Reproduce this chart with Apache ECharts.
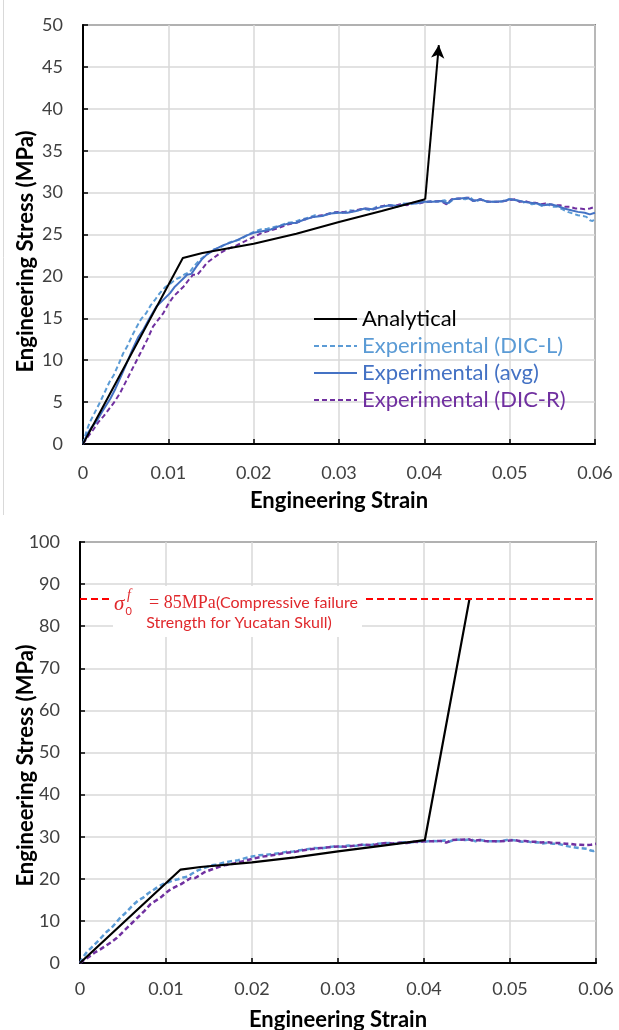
<!DOCTYPE html>
<html>
<head>
<meta charset="utf-8">
<script src="https://cdn.jsdelivr.net/npm/echarts@6/dist/echarts.min.js"></script>
<style>
html,body{margin:0;padding:0;background:#fff;}
#chart{width:619px;height:1030px;}
</style>
</head>
<body>
<div id="chart"></div>
<script>
// ---------- DATA ----------
const seriesNames = ['Analytical', 'Experimental (DIC-L)', 'Experimental (avg)', 'Experimental (DIC-R)'];

// Analytical model (strain, stress MPa)
const analytical = [[0,0],[0.0117,22.2],[0.014,22.8],[0.02,23.9],[0.025,25.1],[0.03,26.5],[0.035,27.8],[0.0401,29.2]];
const analyticalArrowEnd = [0.0417, 47.6];   // top chart: arrow continuing upward
const analyticalFailureEnd = [0.0453, 86.6]; // bottom chart: reaches failure strength
const failureStrength = 86.6;

const dicL = [[0,0],[0.0004,1.5],[0.0008,2.6],[0.0013,3.6],[0.002,5.0],[0.0026,6.3],[0.0031,7.4],[0.0036,8.2],[0.0042,9.6],[0.0047,10.8],[0.0052,11.7],[0.0058,13.0],[0.0063,14.0],[0.0068,14.9],[0.0074,15.6],[0.0079,16.5],[0.0085,17.3],[0.009,18.0],[0.0096,18.7],[0.0102,19.1],[0.0108,19.6],[0.0114,19.9],[0.012,20.3],[0.0125,20.5],[0.013,21.2],[0.0137,22.0],[0.0145,22.6],[0.0153,23.2],[0.016,23.4],[0.0168,23.9],[0.0176,24.2],[0.0184,24.4],[0.0192,24.9],[0.02,25.3],[0.0208,25.6],[0.0216,25.7],[0.0224,25.9],[0.0232,26.1],[0.024,26.4],[0.0248,26.5],[0.0256,26.8],[0.0264,27.0],[0.0272,27.3],[0.028,27.2],[0.0288,27.5],[0.0296,27.7],[0.0304,27.6],[0.0312,27.9],[0.032,27.8],[0.0328,28.1],[0.0336,27.9],[0.0344,28.3],[0.0352,28.4],[0.036,28.5],[0.0368,28.3],[0.0376,28.7],[0.0384,28.6],[0.0392,28.9],[0.04,28.8],[0.0408,29.0],[0.0416,28.9],[0.0424,29.1],[0.0428,28.7],[0.0434,29.2],[0.044,29.3],[0.0448,29.2],[0.0454,29.4],[0.046,28.9],[0.0466,29.2],[0.0474,28.9],[0.0482,28.9],[0.049,28.9],[0.0496,29.2],[0.0502,29.2],[0.0508,29.1],[0.0514,28.8],[0.052,28.9],[0.0526,28.6],[0.0532,28.7],[0.0538,28.4],[0.0544,28.6],[0.055,28.3],[0.0556,28.3],[0.0562,28.0],[0.0568,27.7],[0.0574,27.5],[0.058,27.3],[0.0586,27.2],[0.059,27.1],[0.0594,26.7],[0.0597,26.6],[0.06,26.9]];

const avgExp = [[0,0],[0.0005,1.2],[0.001,2.0],[0.0016,2.7],[0.0022,3.8],[0.0027,4.6],[0.0032,5.4],[0.0038,6.6],[0.0045,8.2],[0.0051,9.6],[0.0058,11.3],[0.0065,12.8],[0.0071,13.7],[0.0078,15.0],[0.0086,16.4],[0.0094,17.2],[0.0102,18.0],[0.0107,18.7],[0.0112,19.2],[0.0117,19.7],[0.0122,20.2],[0.0127,20.3],[0.0133,21.2],[0.0139,22.0],[0.0145,22.6],[0.0154,23.2],[0.0164,23.7],[0.0172,24.0],[0.018,24.3],[0.0192,24.9],[0.02,25.2],[0.021,25.4],[0.022,25.6],[0.023,26.0],[0.024,26.3],[0.025,26.4],[0.026,26.8],[0.027,27.1],[0.028,27.2],[0.029,27.5],[0.03,27.6],[0.031,27.6],[0.032,27.8],[0.033,28.1],[0.034,28.0],[0.035,28.3],[0.036,28.5],[0.037,28.4],[0.038,28.7],[0.039,28.7],[0.04,28.9],[0.041,28.9],[0.042,29.0],[0.0427,28.7],[0.0433,29.2],[0.0442,29.3],[0.045,29.4],[0.0458,29.0],[0.0466,29.2],[0.0474,28.9],[0.0484,28.9],[0.0494,29.0],[0.05,29.2],[0.0508,29.1],[0.0516,28.9],[0.0524,28.8],[0.0532,28.7],[0.054,28.5],[0.0548,28.6],[0.0556,28.4],[0.0564,28.1],[0.0572,27.9],[0.058,27.7],[0.0588,27.6],[0.0594,27.4],[0.06,27.6]];

const dicR = [[0,0],[0.0006,0.9],[0.0012,1.7],[0.0018,2.6],[0.0024,3.3],[0.003,4.1],[0.0036,4.9],[0.0043,6.0],[0.0051,7.6],[0.0059,9.2],[0.0067,10.8],[0.0075,12.4],[0.0082,14.0],[0.0088,14.8],[0.0094,15.6],[0.01,16.7],[0.0106,17.6],[0.0112,18.2],[0.0118,18.8],[0.0124,19.6],[0.0129,20.2],[0.0134,20.2],[0.0139,20.8],[0.0145,21.6],[0.0153,22.2],[0.0161,22.8],[0.017,23.3],[0.018,23.7],[0.019,24.2],[0.02,24.7],[0.021,25.2],[0.022,25.5],[0.023,25.8],[0.024,26.2],[0.025,26.4],[0.026,26.8],[0.027,27.1],[0.028,27.3],[0.029,27.5],[0.03,27.7],[0.031,27.6],[0.032,27.9],[0.033,28.1],[0.034,28.0],[0.0348,28.3],[0.0356,28.5],[0.0364,28.4],[0.0372,28.6],[0.038,28.5],[0.0387,28.8],[0.0394,28.7],[0.0401,28.9],[0.041,28.9],[0.0419,29.0],[0.0426,28.6],[0.0432,29.2],[0.0442,29.3],[0.0452,29.4],[0.0457,29.0],[0.0465,29.2],[0.0471,29.0],[0.0477,28.9],[0.0489,28.9],[0.05,29.1],[0.0506,29.2],[0.0512,28.9],[0.0518,29.0],[0.0524,28.8],[0.053,28.8],[0.0536,28.6],[0.0542,28.7],[0.0547,28.6],[0.0553,28.5],[0.0559,28.5],[0.0565,28.3],[0.0571,28.3],[0.0577,28.1],[0.0582,28.1],[0.0588,28.0],[0.0594,28.1],[0.06,28.3]];

const xRange = [0, 0.06, 0.01];
const yRangeTop = [0, 50, 5];
const yRangeBottom = [0, 100, 10];
const annotationLine1 = '(Compressive failure';
const annotationLine2 = 'Strength for Yucatan Skull)';

// ---------- STYLE ----------
const FONT = 'Lato, "Open Sans", sans-serif';
const C_BLACK = '#000000', C_L = '#5B9BD5', C_AVG = '#4472C4', C_R = '#7030A0', C_RED = '#FF0000', C_RED_TXT = '#E0282C';

function xAxisCfg(grid, margin, gap) {
  return {
    gridIndex: grid, type: 'value', min: xRange[0], max: xRange[1], interval: xRange[2],
    axisLine: { show: true, onZero: false, lineStyle: { color: '#000', width: 2 } },
    axisTick: { show: true, inside: true, length: 5, lineStyle: { color: '#000', width: 1.5 } },
    splitLine: { show: true, lineStyle: { color: '#d9d9d9', width: 1.5 } },
    axisLabel: { margin: margin, fontSize: 18, color: '#404040', fontFamily: FONT,
      formatter: v => String(+v.toFixed(2)) },
    name: 'Engineering Strain', nameLocation: 'middle', nameGap: gap,
    nameTextStyle: { fontSize: 22, fontWeight: 'bold', color: '#000', fontFamily: FONT }
  };
}
function yAxisCfg(grid, range, gap, pad) {
  return {
    gridIndex: grid, type: 'value', min: range[0], max: range[1], interval: range[2],
    axisLine: { show: true, onZero: false, lineStyle: { color: '#000', width: 2 } },
    axisTick: { show: true, inside: true, length: 5, lineStyle: { color: '#000', width: 1.5 } },
    splitLine: { show: true, lineStyle: { color: '#d9d9d9', width: 1.5 } },
    axisLabel: { margin: 20, fontSize: 18, color: '#404040', fontFamily: FONT },
    name: 'Engineering Stress (MPa)', nameLocation: 'middle', nameGap: gap,
    nameMoveOverlap: false,
    nameTextStyle: { fontSize: 22, fontWeight: 'bold', color: '#000', fontFamily: FONT, padding: pad }
  };
}
function lineSeries(name, data, color, dashed, xi, width) {
  return {
    name: name, type: 'line', xAxisIndex: xi, yAxisIndex: xi, data: data,
    showSymbol: false, symbol: 'none', animation: false, silent: true,
    lineStyle: { color: color, width: width, type: dashed ? [5, 3] : 'solid' },
    itemStyle: { color: color }
  };
}

const lastA = analytical[analytical.length - 1];

const topSeries = [
  lineSeries(seriesNames[1], dicL, C_L, true, 0, 2),
  lineSeries(seriesNames[3], dicR, C_R, true, 0, 2),
  lineSeries(seriesNames[2], avgExp, C_AVG, false, 0, 2),
  Object.assign(lineSeries(seriesNames[0], analytical, C_BLACK, false, 0, 2), {
    markLine: {
      silent: true, animation: false, symbol: ['none', 'arrow'], symbolSize: [10, 13],
      label: { show: false },
      lineStyle: { color: '#000', width: 2, type: 'solid' },
      data: [[{ coord: lastA }, { coord: analyticalArrowEnd }]]
    }
  })
];
const bottomSeries = [
  lineSeries(seriesNames[1], dicL, C_L, true, 1, 2.5),
  lineSeries(seriesNames[3], dicR, C_R, true, 1, 2.5),
  Object.assign(lineSeries(seriesNames[0], analytical.concat([analyticalFailureEnd]), C_BLACK, false, 1, 2.2), {
    markLine: {
      silent: true, animation: false, symbol: ['none', 'none'],
      label: { show: false },
      lineStyle: { color: C_RED, width: 2, type: [7, 4] },
      data: [{ yAxis: failureStrength }]
    }
  })
];

const chart = echarts.init(document.getElementById('chart'), null, { renderer: 'canvas' });
chart.setOption({
  backgroundColor: '#fff',
  animation: false,
  grid: [
    { left: 83, top: 25, width: 512, height: 419, show: true, borderColor: '#000', borderWidth: 1.3, backgroundColor: 'transparent', outerBoundsMode: 'none', containLabel: false },
    { left: 80, top: 542, width: 516, height: 421, show: true, borderColor: '#000', borderWidth: 1.3, backgroundColor: 'transparent', outerBoundsMode: 'none', containLabel: false }
  ],
  xAxis: [xAxisCfg(0, 20, 46), xAxisCfg(1, 17, 46)],
  yAxis: [yAxisCfg(0, yRangeTop, 46, [0, 34, 0, 0]), yAxisCfg(1, yRangeBottom, 43, [0, 26, 0, 0])],
  legend: {
    orient: 'vertical', left: 313, top: 308, padding: 0, itemWidth: 43, itemHeight: 14, itemGap: 5,
    selectedMode: false,
    itemStyle: { opacity: 0 },
    textStyle: { fontSize: 22, fontFamily: FONT },
    data: [
      { name: seriesNames[0], textStyle: { color: C_BLACK } },
      { name: seriesNames[1], textStyle: { color: C_L } },
      { name: seriesNames[2], textStyle: { color: C_AVG } },
      { name: seriesNames[3], textStyle: { color: C_R } }
    ]
  },
  series: topSeries.concat(bottomSeries),
  graphic: [
    { type: 'line', shape: { x1: 3.5, y1: 0, x2: 3.5, y2: 515 }, style: { stroke: '#d9d9d9', lineWidth: 1 }, z: 0 },
    { type: 'rect', shape: { x: 113, y: 586, width: 249, height: 51 }, style: { fill: '#fff' }, z: 100 },
    { type: 'text', x: 114, y: 604, z: 101, style: { text: 'σ', font: 'italic 21px "Liberation Serif"', fill: C_RED_TXT, verticalAlign: 'middle' } },
    { type: 'text', x: 127, y: 595, z: 101, style: { text: 'f', font: 'italic 14px "Liberation Serif"', fill: C_RED_TXT, verticalAlign: 'middle' } },
    { type: 'text', x: 125.5, y: 611, z: 101, style: { text: '0', font: '11px Lato', fill: C_RED_TXT, verticalAlign: 'middle' } },
    { type: 'text', x: 149, y: 603, z: 101, style: { text: '= 85MPa', font: '18px "Liberation Serif"', fill: C_RED_TXT, verticalAlign: 'middle' } },
    { type: 'text', x: 216, y: 603, z: 101, style: { text: annotationLine1, font: '16px Lato', fill: C_RED_TXT, verticalAlign: 'middle' } },
    { type: 'text', x: 239, y: 623, z: 101, style: { text: annotationLine2, font: '16px Lato', fill: C_RED_TXT, verticalAlign: 'middle', align: 'center' } }
  ]
});
</script>
</body>
</html>
